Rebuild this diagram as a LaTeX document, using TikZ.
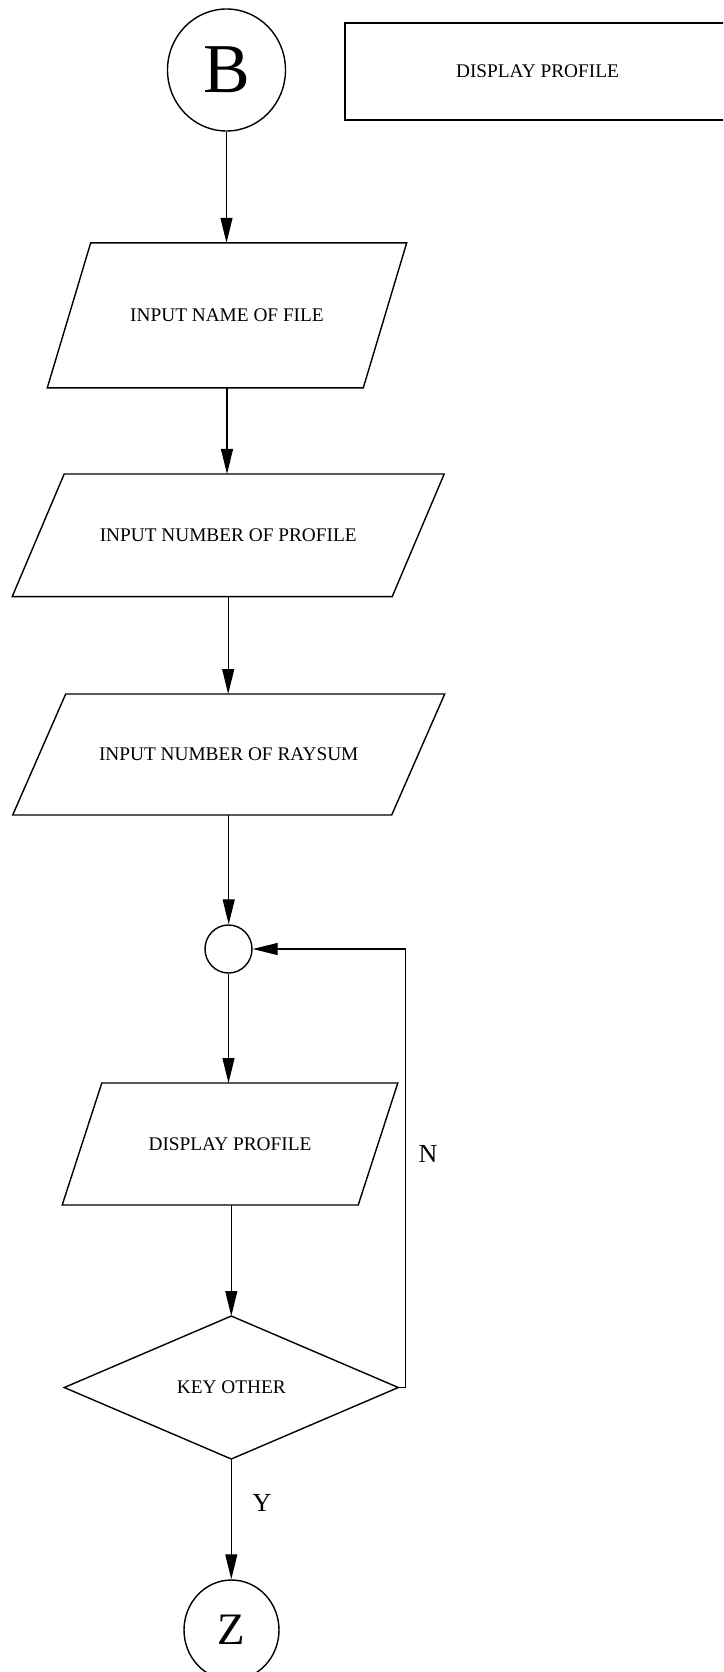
\documentclass[tikz,border=0pt]{standalone}
\usepackage{fontspec}
\setmainfont{Liberation Serif}
\usetikzlibrary{arrows.meta,shapes.geometric}

\tikzset{
  outline/.style={draw=black, line width=1.4pt},
  conn/.style={draw=black, line width=1.1pt, -{Triangle[length=25pt,width=12pt]}},
  plainline/.style={draw=black, line width=1.1pt},
  boxtext/.style={font=\fontsize{19.3}{22}\selectfont},
  iobox/.style={rectangle, inner sep=0pt, outer sep=0pt, boxtext},
  connector/.style={ellipse, outline, inner sep=0pt},
  decision/.style={diamond, outline, inner sep=0pt, outer sep=0pt, boxtext},
  branch/.style={font=\fontsize{26}{30}\selectfont, inner sep=0pt}
}

% parallelogram drawn around an invisible rectangle node
\newcommand{\iopara}[2]{%
  \draw[outline]
    ([xshift=#2pt]#1.north west) -- ([xshift=#2pt]#1.north east) --
    ([xshift=-#2pt]#1.south east) -- ([xshift=-#2pt]#1.south west) -- cycle;}

\begin{document}
\begin{tikzpicture}[x=1pt, y=-1pt]
  \path[use as bounding box] (0,0) rectangle (723,1672);
  \clip (0,0) rectangle (723,1672);

  % title box
  \node[rectangle, outline, minimum width=385pt, minimum height=97pt, inner sep=0pt, boxtext]
    (title) at (537.5,71.5) {DISPLAY PROFILE};

  % entry connector
  \node[connector, minimum width=118pt, minimum height=122pt,
        font=\fontsize{70}{72}\selectfont] (B) at (226.5,70) {B};

  % input steps
  \node[iobox, minimum width=316pt, minimum height=145pt] (p1) at (227,315.3) {INPUT NAME OF FILE};
  \iopara{p1}{21.7}
  \node[iobox, minimum width=380pt, minimum height=122.7pt] (p2) at (228.2,535.3) {INPUT NUMBER OF PROFILE};
  \iopara{p2}{26}
  \node[iobox, minimum width=379pt, minimum height=121pt] (p3) at (228.7,754.5) {INPUT NUMBER OF RAYSUM};
  \iopara{p3}{26.5}

  % loop junction
  \node[connector, minimum width=47pt, minimum height=48pt] (c) at (228.5,949) {};

  % display step
  \node[iobox, minimum width=296pt, minimum height=122pt] (p4) at (230,1144) {DISPLAY PROFILE};
  \iopara{p4}{19.8}

  % decision
  \node[decision, minimum width=334pt, minimum height=143pt] (d) at (231.3,1387.5) {KEY OTHER};

  % exit connector
  \node[connector, minimum width=95pt, minimum height=100pt,
        font=\fontsize{45}{48}\selectfont] (Z) at (231.5,1630) {Z};

  % flow
  \draw[conn] (B) -- (B |- p1.north);
  \draw[conn] (p1.south) -- (p1.south |- p2.north);
  \draw[conn] (p2.south) -- (p2.south |- p3.north);
  \draw[conn] (p3.south) -- (p3.south |- c.north);
  \draw[conn] (c) -- (c |- p4.north);
  \draw[conn] (d.north |- p4.south) -- (d.north);
  \draw[conn] (d.south) -- (d.south |- Z.north);
  \draw[conn] (d.east) -- ++(7,0) |- (c.east);

  % branch labels
  \node[branch] (nlab) at (428,1154) {N};
  \node[branch] (ylab) at (262,1503) {Y};
\end{tikzpicture}
\end{document}
